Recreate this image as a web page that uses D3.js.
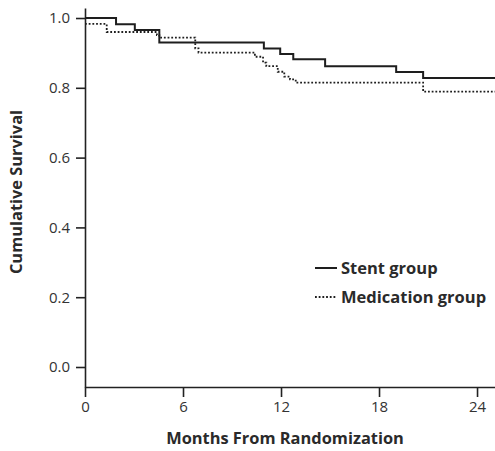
<!doctype html>
<html>
  <head>
    <meta charset="utf8">
    <script src="https://d3js.org/d3.v7.min.js"></script>
    <style type="text/css">
      body { margin: 0; background: #fff; font-family: 'Open Sans', sans-serif; }
      .tick text { fill: #333; }
    </style>
  </head>
  <body>
    <script type="text/javascript">
      const w = 495;
      const h = 451;

      // Kaplan-Meier steps (months, survival after the step)
      const stentTimes = [0, 1.9, 3.05, 4.55, 10.95, 11.95, 12.75, 14.7, 19.05, 20.7, 25.1];
      const stentSurv  = [1.0, 0.982, 0.966, 0.930, 0.913, 0.897, 0.882, 0.862, 0.845, 0.828, 0.828];

      const medTimes = [0, 1.33, 4.4, 4.55, 6.75, 6.95, 10.4, 10.9, 11.1, 11.8, 12.2, 12.55, 12.9, 20.7, 25.1];
      const medSurv  = [0.983, 0.960, 0.951, 0.944, 0.913, 0.901, 0.889, 0.872, 0.862, 0.846, 0.832, 0.824, 0.815, 0.789, 0.789];

      const xTicks = [0, 6, 12, 18, 24];
      const yTicks = [0, 0.2, 0.4, 0.6, 0.8, 1.0];
      const legendLabels = ['Stent group', 'Medication group'];

      const xScale = d3.scaleLinear().domain([0, 25.1]).range([85, 495]);
      const yScale = d3.scaleLinear().domain([-0.0573, 1.0287]).range([387, 8]);

      const svg = d3.select('body').append('svg')
        .attr('width', w)
        .attr('height', h);

      const xAxis = svg.append('g')
        .attr('transform', 'translate(0,387)')
        .call(d3.axisBottom(xScale).tickValues(xTicks).tickSize(10).tickSizeOuter(0).tickPadding(4));

      const yAxis = svg.append('g')
        .attr('transform', 'translate(85,0)')
        .call(d3.axisLeft(yScale).tickValues(yTicks).tickSize(9).tickSizeOuter(0).tickPadding(6)
          .tickFormat(d3.format('.1f')));

      [xAxis, yAxis].forEach((a) => {
        a.selectAll('path, line').attr('stroke', '#222').attr('stroke-width', 1.6);
        a.selectAll('text').attr('font-size', '15px').attr('font-family', "'Open Sans', sans-serif");
      });

      const line = d3.line()
        .x((d) => xScale(d[0]))
        .y((d) => yScale(d[1]))
        .curve(d3.curveStepAfter);

      svg.append('path')
        .datum(stentTimes.map((t, i) => [t, stentSurv[i]]))
        .attr('d', line)
        .attr('fill', 'none')
        .attr('stroke', '#1e1e1e')
        .attr('stroke-width', 2);

      svg.append('path')
        .datum(medTimes.map((t, i) => [t, medSurv[i]]))
        .attr('d', line)
        .attr('fill', 'none')
        .attr('stroke', '#1e1e1e')
        .attr('stroke-width', 1.8)
        .attr('stroke-dasharray', '1.8,1.9');

      // legend
      const legend = svg.append('g');
      legendLabels.forEach((lab, i) => {
        const y = 268 + i * 29;
        legend.append('line')
          .attr('x1', 315).attr('x2', 337)
          .attr('y1', y).attr('y2', y)
          .attr('stroke', '#1e1e1e')
          .attr('stroke-width', i === 0 ? 2 : 1.8)
          .attr('stroke-dasharray', i === 0 ? null : '1.8,1.9');
        legend.append('text')
          .attr('x', 341).attr('y', y + 5.5)
          .attr('font-size', '16.5px')
          .attr('font-weight', 'bold')
          .attr('fill', '#2a2a2a')
          .text(lab);
      });

      // axis titles
      svg.append('text')
        .attr('x', 285).attr('y', 444)
        .attr('text-anchor', 'middle')
        .attr('font-size', '16.4px')
        .attr('font-weight', 'bold')
        .attr('fill', '#2a2a2a')
        .text('Months From Randomization');

      svg.append('text')
        .attr('transform', 'translate(22,192) rotate(-90)')
        .attr('text-anchor', 'middle')
        .attr('font-size', '16.4px')
        .attr('font-weight', 'bold')
        .attr('fill', '#2a2a2a')
        .text('Cumulative Survival');
    </script>
  </body>
</html>
